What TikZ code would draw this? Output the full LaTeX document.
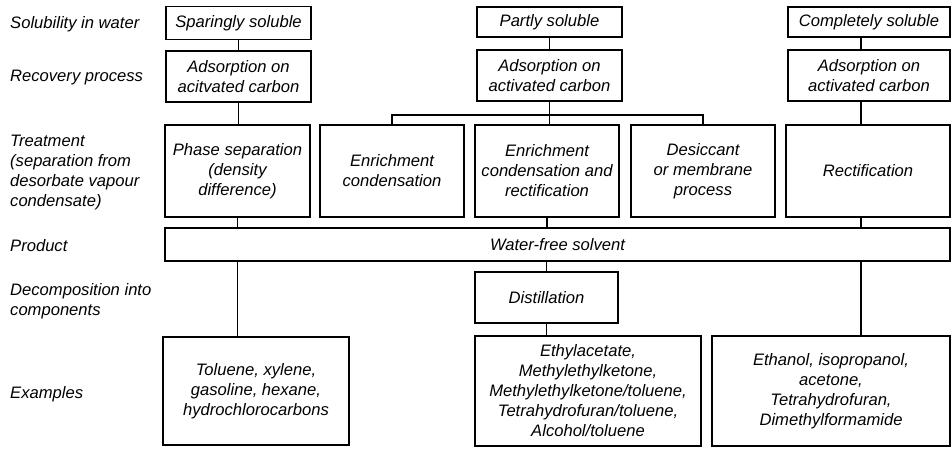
\documentclass[tikz,border=0pt]{standalone}
\usepackage{fontspec}
\setmainfont{Liberation Sans}
\begin{document}
\begin{tikzpicture}[x=1pt,y=-1pt,
		box/.style={draw, line width=1.1pt, align=center, inner sep=0pt},
		lab/.style={anchor=west, align=left, inner sep=0pt},
		every node/.style={font=\fontsize{16.6}{20}\selectfont\itshape}]
	\useasboundingbox (0,0) rectangle (952,448);
	% row labels
	\node[lab] (l1) at (10,24) {Solubility in water};
	\node[lab] (l2) at (10,78) {Recovery process};
	\node[lab] (l3) at (10,172.5) {Treatment\\(separation from\\desorbate vapour\\condensate)};
	\node[lab] (l4) at (10,246) {Product};
	\node[lab] (l5) at (10,301) {Decomposition into\\components};
	\node[lab] (l6) at (10,394) {Examples};
	% solubility
	\node[box, minimum width=145, minimum height=33] (sol1) at (238.5,23) {Sparingly soluble};
	\node[box, minimum width=145, minimum height=30] (sol2) at (549.5,22) {Partly soluble};
	\node[box, minimum width=162, minimum height=30] (sol3) at (869,22) {Completely soluble};
	% recovery
	\node[box, minimum width=145, minimum height=51] (rec1) at (238.5,76.5) {Adsorption on\\acitvated carbon};
	\node[box, minimum width=145, minimum height=51] (rec2) at (549.5,75.5) {Adsorption on\\activated carbon};
	\node[box, minimum width=162, minimum height=51] (rec3) at (869,75.5) {Adsorption on\\activated carbon};
	% treatment
	\node[box, minimum width=145, minimum height=92] (tr1) at (237.5,171) {Phase separation\\(density\\difference)};
	\node[box, minimum width=144, minimum height=92] (tr2) at (392,171) {Enrichment\\condensation};
	\node[box, minimum width=144, minimum height=92] (tr3) at (547,171) {Enrichment\\condensation and\\rectification};
	\node[box, minimum width=144, minimum height=92] (tr4) at (703,171) {Desiccant\\or membrane\\process};
	\node[box, minimum width=164, minimum height=92] (tr5) at (868,171) {Rectification};
	% product
	\node[box, minimum width=785, minimum height=33] (prod) at (557.5,244.5) {Water-free solvent};
	\node[box, minimum width=143, minimum height=51] (dist) at (546.5,297.5) {Distillation};
	% examples
	\node[box, minimum width=186, minimum height=108] (ex1) at (256,391) {Toluene, xylene,\\gasoline, hexane,\\hydrochlorocarbons};
	\node[box, minimum width=226, minimum height=110] (ex2) at (588,391) {Ethylacetate,\\Methylethylketone,\\Methylethylketone/toluene,\\Tetrahydrofuran/toluene,\\Alcohol/toluene};
	\node[box, minimum width=238, minimum height=110] (ex3) at (831,391) {Ethanol, isopropanol,\\acetone,\\Tetrahydrofuran,\\Dimethylformamide};
	\coordinate (jn) at (548,115);
	\coordinate (cr) at (861,0);
	\begin{scope}[line width=1.1pt]
		\draw (sol1) -- (rec1) (rec1.south) -- (rec1.south |- tr1.north)
			  (sol2) -- (rec2) (rec2.south) -- (rec2.south |- tr3.north)
			  (sol3.south -| cr) -- (rec3.north -| cr)
			  (rec3.south -| cr) -- (tr5.north -| cr);
		\draw (tr2.north) |- (jn) -| (tr4.north);
		\draw (tr1.south) -- (tr1.south |- prod.north)
			  (tr3.south) -- (tr3.south |- prod.north)
			  (tr5.south -| cr) -- (prod.north -| cr);
		\draw (tr1.south |- prod.south) -- (tr1.south |- ex1.north)
			  (dist.north |- prod.south) -- (dist.north)
			  (dist.south) -- (dist.south |- ex2.north)
			  (prod.south -| cr) -- (ex3.north -| cr);
	\end{scope}
\end{tikzpicture}
\end{document}
